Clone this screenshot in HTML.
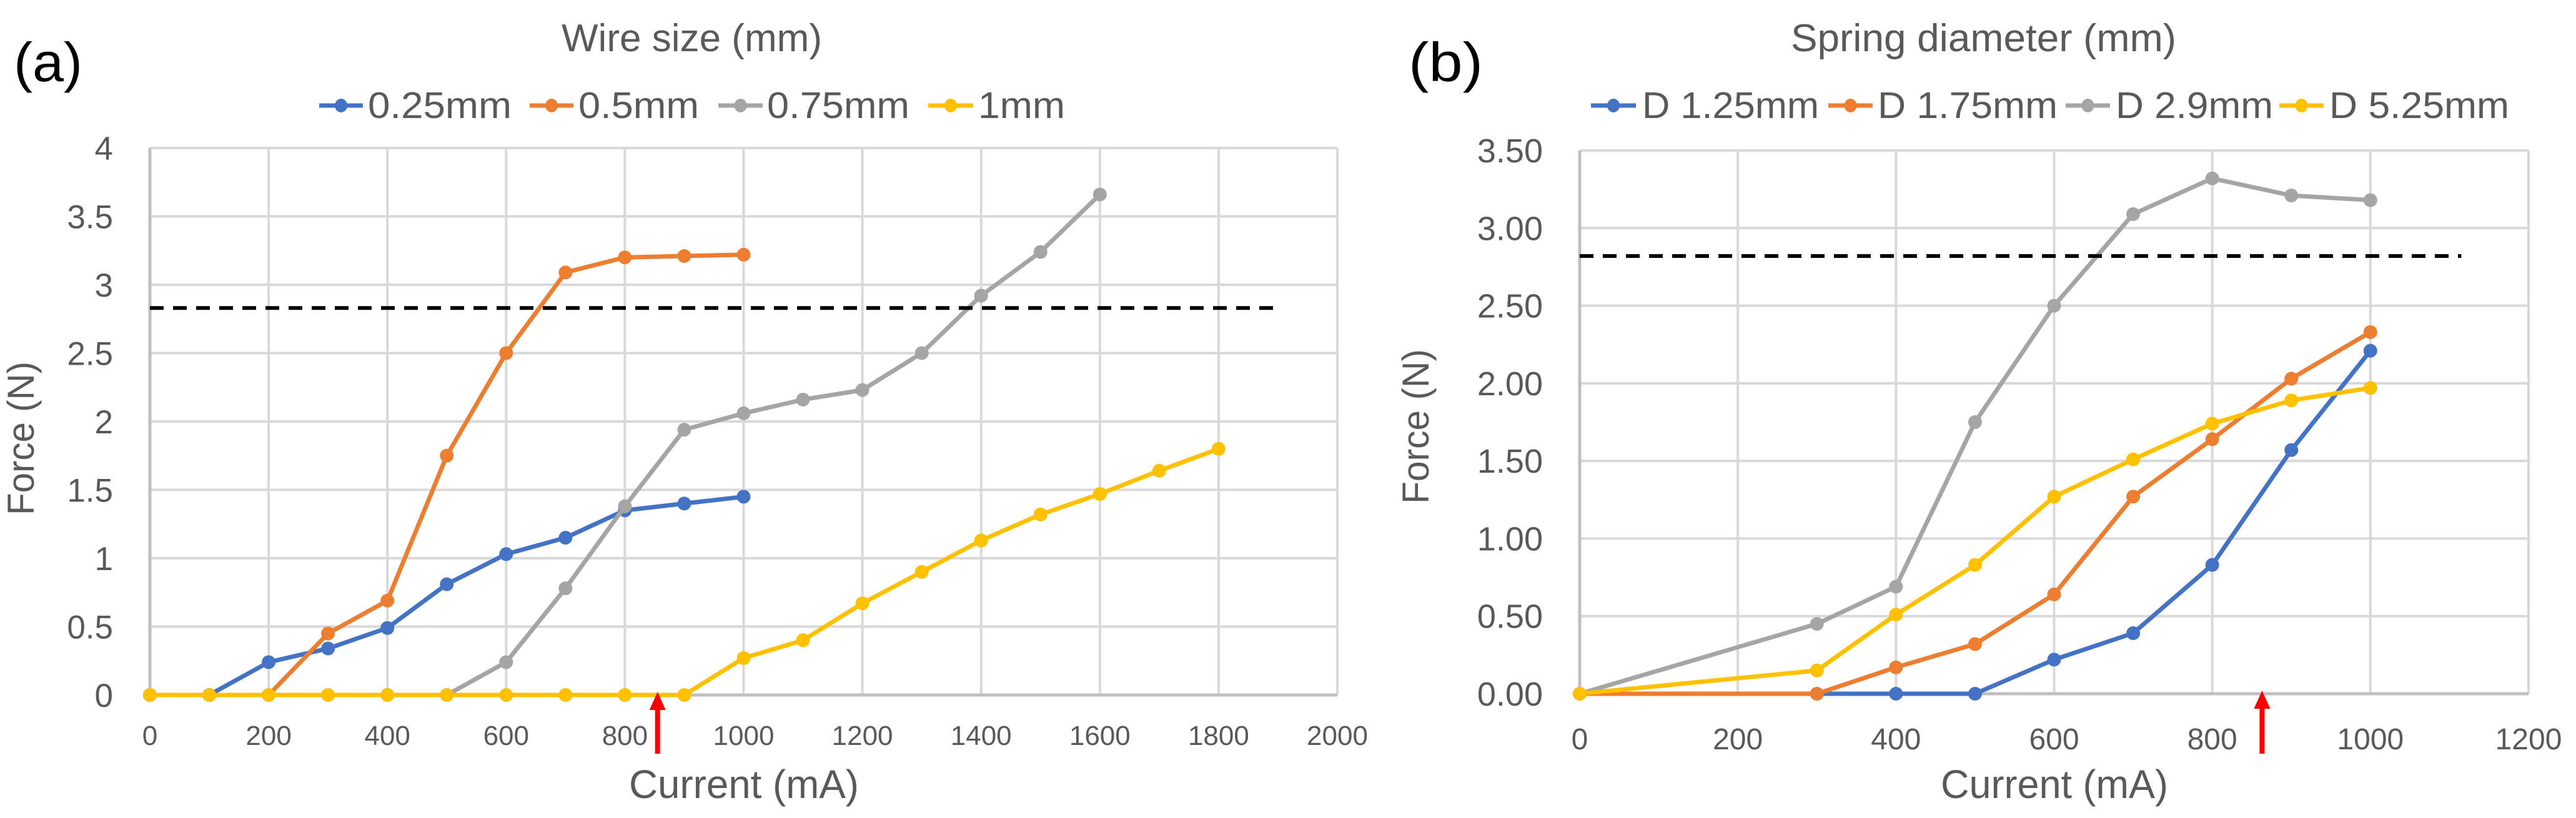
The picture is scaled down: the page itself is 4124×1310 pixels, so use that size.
<!DOCTYPE html>
<html><head><meta charset="utf-8"><style>
html,body{margin:0;padding:0;background:#fff;}
svg{display:block;font-family:"Liberation Sans",sans-serif;}
</style></head>
<body>
<svg id="fig" width="4124" height="1310" viewBox="0 0 4124 1310" xmlns="http://www.w3.org/2000/svg">
<rect width="4124" height="1310" fill="#fff"/>
<g id="ga"></g>
<g id="gb"></g>
</svg>
<script>
const NS="http://www.w3.org/2000/svg";
// ---- Chart (a) data ----
const aXTicks=[0,200,400,600,800,1000,1200,1400,1600,1800,2000];
const aYTicks=[0,0.5,1,1.5,2,2.5,3,3.5,4];
const aYLabels=["0","0.5","1","1.5","2","2.5","3","3.5","4"];
const aNames=["0.25mm","0.5mm","0.75mm","1mm"];
const aX025=[0,100,200,300,400,500,600,700,800,900,1000];
const aY025=[0,0,0.24,0.34,0.49,0.81,1.03,1.15,1.35,1.40,1.45];
const aX05=[0,100,200,300,400,500,600,700,800,900,1000];
const aY05=[0,0,0,0.45,0.69,1.75,2.50,3.09,3.20,3.21,3.22];
const aX075=[0,100,200,300,400,500,600,700,800,900,1000,1100,1200,1300,1400,1500,1600];
const aY075=[0,0,0,0,0,0,0.24,0.78,1.38,1.94,2.06,2.16,2.23,2.50,2.92,3.24,3.66];
const aX1=[0,100,200,300,400,500,600,700,800,900,1000,1100,1200,1300,1400,1500,1600,1700,1800];
const aY1=[0,0,0,0,0,0,0,0,0,0,0.27,0.40,0.67,0.90,1.13,1.32,1.47,1.64,1.80];
const aThreshold=2.83, aThresholdEnd=1905, aArrowX=855;
// ---- Chart (b) data ----
const bXTicks=[0,200,400,600,800,1000,1200];
const bYTicks=[0,0.5,1,1.5,2,2.5,3,3.5];
const bYLabels=["0.00","0.50","1.00","1.50","2.00","2.50","3.00","3.50"];
const bNames=["D 1.25mm","D 1.75mm","D 2.9mm","D 5.25mm"];
const bX=[0,300,400,500,600,700,800,900,1000];
const bY125=[0,0,0,0,0.22,0.39,0.83,1.57,2.21];
const bY175=[0,0,0.17,0.32,0.64,1.27,1.64,2.03,2.33];
const bY29=[0,0.45,0.69,1.75,2.50,3.09,3.32,3.21,3.18];
const bY525=[0,0.15,0.51,0.83,1.27,1.51,1.74,1.89,1.97];
const bThreshold=2.82, bThresholdEnd=1115, bArrowX=863;

const COLORS=["#4472c4","#ed7d31","#a5a5a5","#ffc000"];

function el(parent,tag,attrs,text){
  const e=document.createElementNS(NS,tag);
  for(const k in attrs)e.setAttribute(k,attrs[k]);
  if(text!==undefined)e.textContent=text;
  parent.appendChild(e);return e;
}

function drawChart(g,cfg){
  const sx=v=>cfg.x0+(v-cfg.xmin)/(cfg.xmax-cfg.xmin)*(cfg.x1-cfg.x0);
  const sy=v=>cfg.y0-(v-cfg.ymin)/(cfg.ymax-cfg.ymin)*(cfg.y0-cfg.y1);
  // grid
  cfg.yTicks.forEach((t,i)=>{
    const l=el(g,'line',{x1:cfg.x0,x2:cfg.x1,y1:sy(t),y2:sy(t),stroke:'#d9d9d9','stroke-width':4});
    
    
    const tx=el(g,'text',{x:cfg.yLabelRight,y:sy(t)+19,'text-anchor':'end','font-size':cfg.yFont,fill:'#595959'},cfg.yLabels[i]);
    
    
  });
  cfg.xTicks.forEach(t=>{
    const l=el(g,'line',{x1:sx(t),x2:sx(t),y1:cfg.y1,y2:cfg.y0,stroke:'#d9d9d9','stroke-width':4});
    
    
    const tx=el(g,'text',{x:sx(t),y:cfg.xLabelY,'text-anchor':'middle','font-size':cfg.xFont,fill:'#595959'},String(t));
    
    
  });
  const ax=el(g,'line',{x1:cfg.x0,x2:cfg.x1,y1:cfg.y0,y2:cfg.y0,stroke:'#bfbfbf','stroke-width':5});
  
  
  const ay=el(g,'line',{x1:cfg.x0,x2:cfg.x0,y1:cfg.y1,y2:cfg.y0,stroke:'#bfbfbf','stroke-width':5});
  
  
  // series
  cfg.series.forEach((s,i)=>{
    const sg=el(g,'g',{});
    
    
    const pts=s.x.map((xv,j)=>sx(xv)+','+sy(s.y[j])).join(' ');
    el(sg,'polyline',{points:pts,fill:'none',stroke:COLORS[i],'stroke-width':7,'stroke-linejoin':'round'});
    s.x.forEach((xv,j)=>{
      const c=el(sg,'ellipse',{cx:sx(xv),cy:sy(s.y[j]),rx:11,ry:11,fill:COLORS[i]});
      
      
    });
  });
  // threshold
  const th=el(g,'line',{x1:sx(0),x2:sx(cfg.thEnd),y1:sy(cfg.th),y2:sy(cfg.th),stroke:'#000','stroke-width':6,'stroke-dasharray':'22 15'});
  
  
  // arrow
  const axp=sx(cfg.arrowX);
  const ag=el(g,'g',{});
  
  
  el(ag,'rect',{x:axp-4,y:cfg.y0+20,width:8,height:1207-cfg.y0-20,fill:'#ff0000'});
  el(ag,'polygon',{points:`${axp-13},${cfg.y0+24} ${axp+13},${cfg.y0+24} ${axp},${cfg.y0-5}`,fill:'#ff0000'});
  // legend
  cfg.legend.forEach((L,i)=>{
    const lg=el(g,'g',{});
    
    
    el(lg,'line',{x1:L[0],x2:L[1],y1:169,y2:169,stroke:COLORS[i],'stroke-width':7});
    el(lg,'ellipse',{cx:(L[0]+L[1])/2,cy:169,rx:10,ry:11,fill:COLORS[i]});
    el(lg,'text',{x:L[2],y:189,'font-size':59,fill:'#595959',textLength:L[3]-L[2],lengthAdjust:'spacingAndGlyphs'},cfg.names[i]);
  });
  const t=el(g,'text',{x:cfg.title[0],y:82,'font-size':62,fill:'#595959',textLength:cfg.title[1]-cfg.title[0],lengthAdjust:'spacingAndGlyphs'},cfg.title[2]);
  
  
  const xt=el(g,'text',{x:cfg.xTitle[0],y:1278,'font-size':64,fill:'#595959',textLength:cfg.xTitle[1]-cfg.xTitle[0],lengthAdjust:'spacingAndGlyphs'},'Current (mA)');
  
  
  const yc=cfg.yTitle[0], ym=(cfg.yTitle[1]+cfg.yTitle[2])/2;
  const yt=el(g,'text',{x:yc+21,y:ym,'font-size':60,fill:'#595959','text-anchor':'middle',transform:`rotate(-90 ${yc+21} ${ym})`,textLength:cfg.yTitle[2]-cfg.yTitle[1],lengthAdjust:'spacingAndGlyphs'},'Force (N)');
  
  
  const p=el(g,'text',{x:cfg.panel[0],y:130,'font-size':88,fill:'#000',textLength:cfg.panel[1]-cfg.panel[0],lengthAdjust:'spacingAndGlyphs'},cfg.panel[2]);
  
  
}

drawChart(document.getElementById('ga'),{
  x0:240,x1:2141,xmin:0,xmax:2000,y0:1113,y1:237,ymin:0,ymax:4,
  xTicks:aXTicks,yTicks:aYTicks,yLabels:aYLabels,yLabelRight:181,yFont:53,xLabelY:1193,xFont:44,
  names:aNames,
  series:[{x:aX025,y:aY025},{x:aX05,y:aY05},{x:aX075,y:aY075},{x:aX1,y:aY1}],
  th:aThreshold,thEnd:aThresholdEnd,arrowX:aArrowX,
  legend:[[511,581,589,819],[848,918,926,1119],[1150,1221,1228,1456],[1486,1558,1566,1705]],
  title:[899,1316,'Wire size (mm)'],xTitle:[1007,1375],yTitle:[33,579,825],panel:[22,132,'(a)']
});
drawChart(document.getElementById('gb'),{
  x0:2529,x1:4048,xmin:0,xmax:1200,y0:1111,y1:241,ymin:0,ymax:3.5,
  xTicks:bXTicks,yTicks:bYTicks,yLabels:bYLabels,yLabelRight:2470,yFont:54,xLabelY:1200,xFont:48,
  names:bNames,
  series:[{x:bX,y:bY125},{x:bX,y:bY175},{x:bX,y:bY29},{x:bX,y:bY525}],
  th:bThreshold,thEnd:bThresholdEnd,arrowX:bArrowX,
  legend:[[2547,2619,2629,2912],[2927,2998,3006,3294],[3307,3378,3387,3639],[3649,3720,3729,4017]],
  title:[2867,3484,'Spring diameter (mm)'],xTitle:[3107,3471],yTitle:[2266,559,807],panel:[2255,2374,'(b)']
});
</script>
</body></html>
